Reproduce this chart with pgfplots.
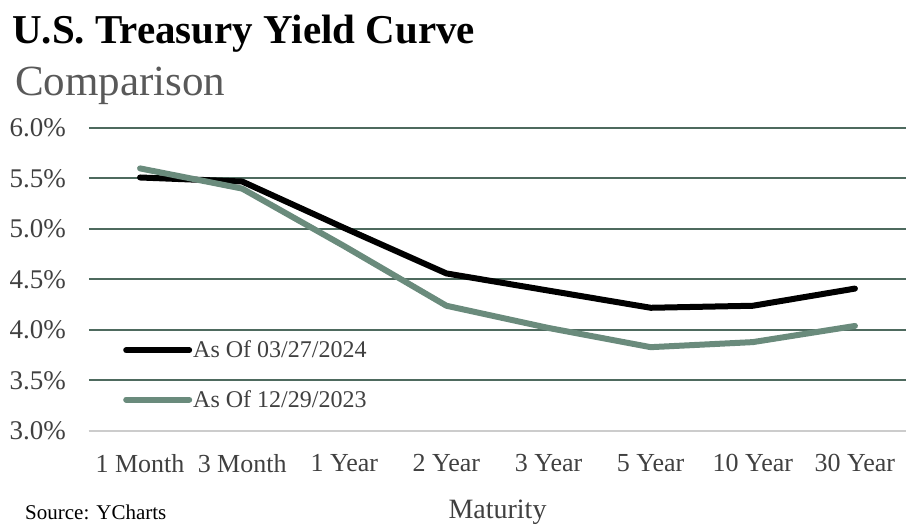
\documentclass[border=0pt]{standalone}
\usepackage{fontspec}
\setmainfont{Liberation Serif}
\usepackage{pgfplots}
\pgfplotsset{compat=1.18}
\usetikzlibrary{calc}
\definecolor{gridgreen}{RGB}{78,106,94}
\definecolor{serieslight}{RGB}{106,139,124}
\definecolor{ticktext}{RGB}{64,64,64}

\begin{document}
\begin{tikzpicture}
\begin{axis}[
    scale only axis, width=817pt, height=303pt,
    xmin=-0.5, xmax=7.5, ymin=3, ymax=6,
    xtick={0,...,7},
    xticklabels={1 Month,3 Month,1 Year,2 Year,3 Year,5 Year,10 Year,30 Year},
    ytick={3,3.5,...,6},
    yticklabel={\pgfmathprintnumber[fixed,fixed zerofill,precision=1]{\tick}\%},
    /pgf/number format/assume math mode=true,
    axis line style={draw=none},
    major tick length=0pt,
    ymajorgrids, grid style={gridgreen, line width=2pt},
    tick label style={font=\fontsize{26}{30}\selectfont, text=ticktext, inner sep=0pt},
    yticklabel style={font=\fontsize{27}{30}\selectfont, xshift=-23pt},
    xticklabel style={yshift=-23pt},
    xlabel={Maturity}, xlabel style={font=\fontsize{28}{32}\selectfont, text=ticktext, yshift=-24pt},
    clip=false,
    legend cell align=left,
    legend style={at={(rel axis cs:0,0)}, anchor=south west, xshift=34pt, yshift=21pt,
        draw=none, fill=none, inner sep=0pt, row sep=29pt,
        font=\fontsize{24}{26}\selectfont, text=ticktext, nodes={inner sep=1pt}},
    legend image code/.code={\draw[#1] (0pt,0pt) -- (63pt,0pt);},
]
\addplot[black, line width=6pt, line join=round, line cap=round] coordinates {
    (0,5.51) (1,5.47) (2,5.01) (3,4.56) (4,4.39) (5,4.22) (6,4.24) (7,4.41)};
\addlegendentry{As Of 03/27/2024}
\addplot[serieslight, line width=6pt, line join=round, line cap=round] coordinates {
    (0,5.60) (1,5.40) (2,4.83) (3,4.24) (4,4.02) (5,3.83) (6,3.88) (7,4.04)};
\addlegendentry{As Of 12/29/2023}
\draw[black!20, line width=2pt] (rel axis cs:0,0) -- (rel axis cs:1,0);
\coordinate (O) at (rel axis cs:0,0);
\node[anchor=base west, inner sep=0pt, font=\fontsize{41}{44}\selectfont\bfseries]
    at ($(rel axis cs:0,1)+(-77pt,84pt)$) {U.S. Treasury Yield Curve};
\node[anchor=base west, inner sep=0pt, font=\fontsize{43}{46}\selectfont, text=black!65]
    at ($(rel axis cs:0,1)+(-74pt,32pt)$) {Comparison};
\node[anchor=base west, inner sep=0pt, font=\fontsize{21}{24}\selectfont]
    at ($(rel axis cs:0,0)+(-64pt,-89pt)$) {Source: YCharts};
\end{axis}
\pgfresetboundingbox
\path[use as bounding box] ($(O)+(-89pt,-96pt)$) rectangle ++(906pt,527pt);
\end{tikzpicture}
\end{document}
